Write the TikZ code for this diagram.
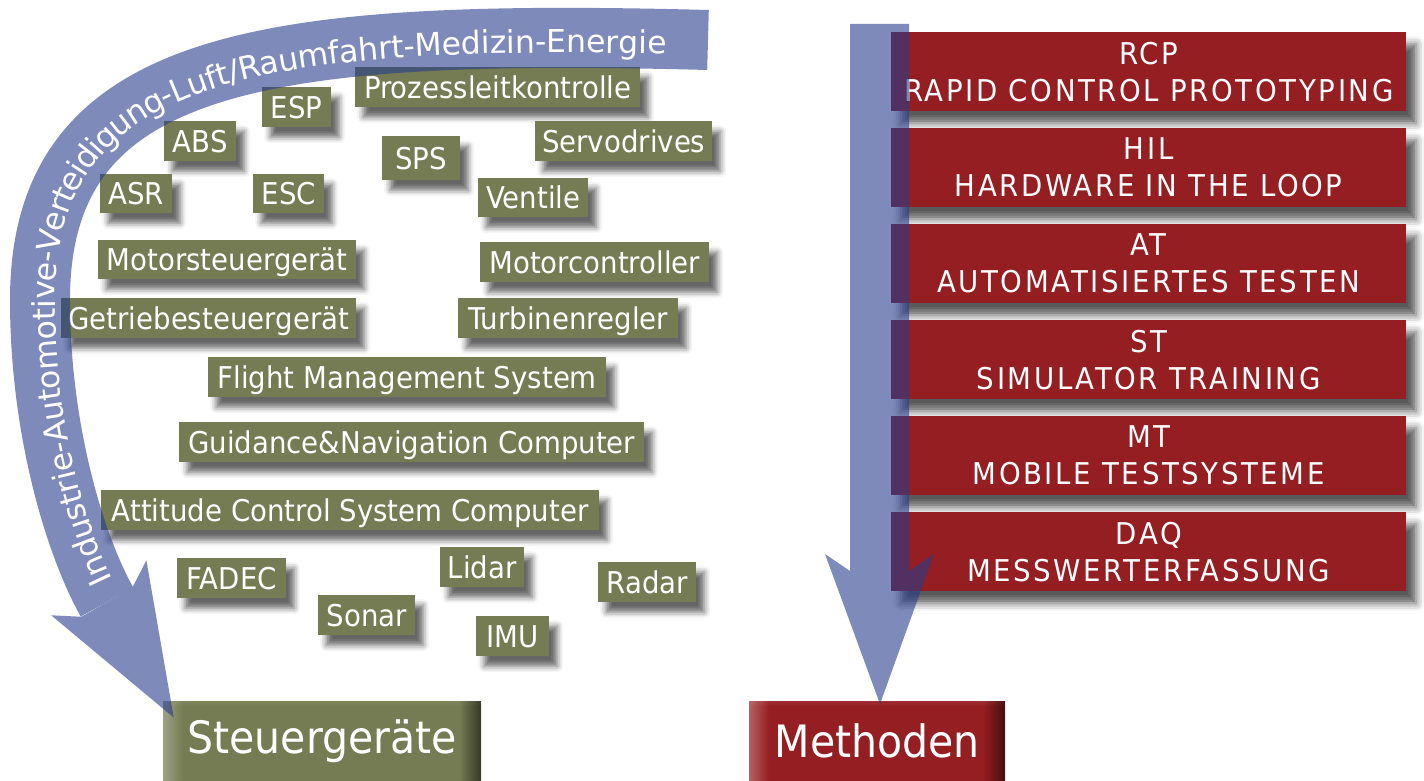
\documentclass[tikz,border=0pt]{standalone}
\usepackage{fontspec}
\setmainfont{DejaVu Sans}
\newfontfamily\tagfont[FakeStretch=0.92]{DejaVu Sans}
\newfontfamily\capfont[FakeStretch=0.92,LetterSpace=8.7]{DejaVu Sans}
\newfontfamily\bandfont{DejaVu Sans}
\usetikzlibrary{shadows.blur,fadings,decorations.text}

\definecolor{boxgreen}{RGB}{117,123,82}
\definecolor{boxred}{RGB}{148,30,34}
\definecolor{flowblue}{RGB}{38,60,140}
\definecolor{gtop}{RGB}{200,204,186}
\definecolor{glight}{RGB}{160,166,130}
\definecolor{gmid}{RGB}{75,80,48}
\definecolor{gdark}{RGB}{34,38,20}
\definecolor{rtop}{RGB}{214,168,168}
\definecolor{rlight}{RGB}{185,105,105}
\definecolor{rmid}{RGB}{100,18,20}
\definecolor{rdark}{RGB}{55,6,8}

\pgfdeclareverticalshading{greenbevel}{100bp}{color(0bp)=(gdark); color(12bp)=(gmid); color(26bp)=(boxgreen); color(72bp)=(boxgreen); color(86bp)=(glight); color(100bp)=(gtop)}
\pgfdeclareverticalshading{redbevel}{100bp}{color(0bp)=(rdark); color(12bp)=(rmid); color(26bp)=(boxred); color(72bp)=(boxred); color(86bp)=(rlight); color(100bp)=(rtop)}

\tikzfading[name=fadeleftedge, left color=transparent!0, right color=transparent!100]
\tikzfading[name=faderightedge, left color=transparent!100, right color=transparent!0]

\begin{document}
\begin{tikzpicture}[x=1pt, y=-1pt,
  tag/.style={anchor=north west, fill=boxgreen, text=white, inner sep=0pt,
    font=\tagfont\fontsize{30}{36}\selectfont, text height=28pt, text depth=6pt,
    blur shadow={shadow xshift=8pt, shadow yshift=-10pt, shadow blur radius=6pt, shadow opacity=60}},
  method/.style={anchor=north west, fill=boxred, text=white, inner sep=0pt,
    minimum width=515pt, minimum height=79pt, align=center,
    font=\capfont\fontsize{30}{37}\selectfont,
    blur shadow={shadow xshift=10pt, shadow yshift=-12pt, shadow blur radius=8pt, shadow opacity=65}},
  bigbox/.style={anchor=north west, inner sep=0pt, text=white,
    font=\tagfont\fontsize{44.6}{50}\selectfont},
  flow/.style={flowblue}
]
\useasboundingbox (0,0) rectangle (1424,781);

% ---- control units (green tags) ----
\node[tag, minimum width=69, minimum height=40] (esp) at (262,87) {ESP};
\node[tag, minimum width=285, minimum height=40] (pl) at (355,67) {Prozessleitkontrolle};
\node[tag, minimum width=72, minimum height=40] (abs) at (164,121) {ABS};
\node[tag, minimum width=78, minimum height=44] (sps) at (382,136) {SPS};
\node[tag, minimum width=177, minimum height=40] (servo) at (535,121) {Servodrives};
\node[tag, minimum width=72, minimum height=39] (asr) at (100,174) {ASR};
\node[tag, minimum width=71, minimum height=39] (esc) at (253,174) {ESC};
\node[tag, minimum width=110, minimum height=39] (vent) at (478,178) {Ventile};
\node[tag, minimum width=258, minimum height=39] (mst) at (98,240) {Motorsteuergerät};
\node[tag, minimum width=229, minimum height=40] (mc) at (480,242) {Motorcontroller};
\node[tag, minimum width=295, minimum height=40] (gst) at (61,298) {Getriebesteuergerät};
\node[tag, minimum width=220, minimum height=40] (tr) at (458,298) {Turbinenregler};
\node[tag, minimum width=398, minimum height=40] (fms) at (208,357) {Flight Management System};
\node[tag, minimum width=465, minimum height=40] (gnc) at (179,422) {Guidance\&Navigation Computer};
\node[tag, minimum width=498, minimum height=40] (acs) at (101,490) {Attitude Control System Computer};
\node[tag, minimum width=109, minimum height=40] (fadec) at (177,558) {FADEC};
\node[tag, minimum width=84, minimum height=40] (lidar) at (440,547) {Lidar};
\node[tag, minimum width=98, minimum height=40] (radar) at (598,562) {Radar};
\node[tag, minimum width=97, minimum height=40] (sonar) at (318,595) {Sonar};
\node[tag, minimum width=73, minimum height=40] (imu) at (476,616) {IMU};

% ---- methods (red bars) ----
\node[method] (rcp) at (891,32) {RCP\\RAPID CONTROL PROTOTYPING};
\node[method] (hil) at (891,128) {HIL\\HARDWARE IN THE LOOP};
\node[method] (at) at (891,224) {AT\\AUTOMATISIERTES TESTEN};
\node[method] (st) at (891,320) {ST\\SIMULATOR TRAINING};
\node[method] (mt) at (891,416) {MT\\MOBILE TESTSYSTEME};
\node[method] (daq) at (891,512) {DAQ\\MESSWERTERFASSUNG};

% ---- bevelled headline buttons ----
\node[bigbox, shade, shading=greenbevel, minimum width=318, minimum height=80] (steuer) at (163,701) {Steuergeräte};
\fill[white, path fading=fadeleftedge, fill opacity=0.3] (steuer.north west) rectangle ([xshift=20pt]steuer.south west);
\fill[black, path fading=faderightedge, fill opacity=0.55] ([xshift=-22pt]steuer.north east) rectangle (steuer.south east);

\node[bigbox, shade, shading=redbevel, minimum width=256, minimum height=80] (meth) at (749,701) {Methoden};
\fill[white, path fading=fadeleftedge, fill opacity=0.3] (meth.north west) rectangle ([xshift=20pt]meth.south west);
\fill[black, path fading=faderightedge, fill opacity=0.55] ([xshift=-22pt]meth.north east) rectangle (meth.south east);

% ---- straight arrow down to the methods ----
\coordinate (mshaftL) at (850,24);
\coordinate (mshaftR) at (909,24);
\coordinate (mtip) at (880,704);
\fill[flow, fill opacity=0.6] (mshaftL) -- (850,571) -- (825,554) -- (mtip) -- (934,554) -- (909,571) -- (mshaftR) -- cycle;

% ---- curved arrow down to the control units ----
\coordinate (bandstart) at (708,40);
\coordinate (bandend) at (107,602);
\coordinate (ctip) at (173.75,717.6);
\begin{scope}[transparency group, opacity=0.6]
  \draw[flow, line width=60pt] (bandstart) .. controls (260,28) and (40,60) .. (40,300)
        .. controls (40,430) and (75,545) .. (bandend);
  \fill[flow] (81.5,616.75) -- (51.2,615.3) -- (ctip) -- (146.4,560.3) -- (132.5,587.3) -- cycle;
\end{scope}
\path[decorate, decoration={text along path, text align={left, left indent=18pt}, raise=-15pt,
   text={|\bandfont\fontsize{31.5}{31.5}\selectfont\color{white}|Industrie-Automotive-Verteidigung-Luft/Raumfahrt-Medizin-Energie}}]
  (bandend) .. controls (75,545) and (40,430) .. (40,300) .. controls (40,60) and (260,28) .. (bandstart);
\end{tikzpicture}
\end{document}
